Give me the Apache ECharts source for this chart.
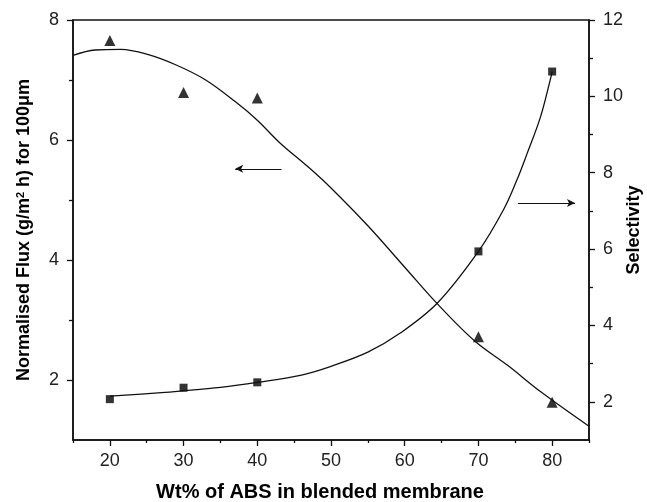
<!DOCTYPE html>
<html>
<head>
<meta charset="utf-8">
<script src="https://cdn.jsdelivr.net/npm/echarts@6/dist/echarts.min.js"></script>
<style>
    html, body { margin: 0; padding: 0; background: #fff; }
    #chart { width: 647px; height: 502px; }
</style>
</head>
<body>
<div id="chart"></div>
<script>
// measured points
const wtPercent = [20, 30, 40, 70, 80]
const fluxPoints = [7.66, 6.79, 6.70, 2.72, 1.63]
const selectivityPoints = [2.07, 2.37, 2.51, 5.94, 10.65]

// fitted curves [wt%, value]
const fluxCurve = [
    [15, 7.41], [18, 7.50], [21.5, 7.51], [25, 7.43], [29, 7.25], [33, 7.00],
    [37, 6.64], [40, 6.33], [43, 5.96], [47, 5.54], [50, 5.20], [55, 4.57],
    [60, 3.88], [64.5, 3.26], [69.5, 2.65], [74, 2.24], [78.5, 1.80], [85, 1.23]
]
const selectivityCurve = [
    [20, 2.15], [27, 2.24], [29.5, 2.28], [35, 2.38], [40, 2.51], [46, 2.70],
    [50, 2.93], [55, 3.30], [59.4, 3.80], [64.4, 4.58], [70, 5.94], [73.4, 7.03],
    [75.2, 7.80], [76.6, 8.50], [78.4, 9.45], [79.7, 10.40], [80, 10.65]
]

// arrows pointing at the axis each curve belongs to: [from, to]
const fluxArrow = [[43.3, 5.52], [37.0, 5.52]]
const selectivityArrow = [[75.35, 7.21], [83.1, 7.21]]

// ticks
const xMajor = [20, 30, 40, 50, 60, 70, 80]
const xMinor = [15, 25, 35, 45, 55, 65, 75, 85]
const fluxMajor = [2, 4, 6, 8]
const fluxMinor = [3, 5, 7]
const selMajor = [2, 4, 6, 8, 10, 12]
const selMinor = [3, 5, 7, 9, 11]

const ink = '#111'
const labelFont = { color: '#222', fontSize: 18, fontFamily: 'Liberation Sans, Arial, sans-serif' }
const titleFont = { color: '#000', fontSize: 18, fontWeight: 'bold', fontFamily: 'Liberation Sans, Arial, sans-serif' }

function minorAxis(base, ticks, len) {
    return Object.assign({
        type: 'value',
        axisLine: { show: false },
        axisTick: { show: true, inside: false, length: len, customValues: ticks, lineStyle: { color: ink, width: 1.3 } },
        axisLabel: { show: false },
        splitLine: { show: false }
    }, base)
}

function majorAxis(base, ticks, labelMargin) {
    return Object.assign({
        type: 'value',
        nameMoveOverlap: false,
        axisLine: { show: true, onZero: false, lineStyle: { color: ink, width: 1.5 } },
        axisTick: { show: true, inside: false, length: 6, customValues: ticks, lineStyle: { color: ink, width: 1.3 } },
        axisLabel: Object.assign({ customValues: ticks, margin: labelMargin }, labelFont),
        splitLine: { show: false }
    }, base)
}

const chart = echarts.init(document.getElementById('chart'))

const option = {
    animation: false,
    backgroundColor: '#fff',
    grid: {
        left: 73, right: 58, top: 20, bottom: 62,
        outerBoundsMode: 'none',
        containLabel: false,
        show: true, borderColor: ink, borderWidth: 1.5
    },
    xAxis: [
        majorAxis({
            min: 15, max: 85, position: 'bottom',
            name: 'Wt% of ABS in blended membrane',
            nameLocation: 'middle', nameGap: 42,
            nameTextStyle: Object.assign({}, titleFont, { fontSize: 20, padding: [0, 22, 0, 0] })
        }, xMajor, 12),
        minorAxis({ min: 15, max: 85, position: 'bottom' }, xMinor, 3)
    ],
    yAxis: [
        majorAxis({
            min: 1, max: 8, position: 'left',
            name: 'Normalised Flux (g/m{sup|2} h) for 100μm',
            nameLocation: 'middle', nameGap: 39, nameRotate: 90,
            nameTextStyle: Object.assign({
                rich: { sup: { fontSize: 11, fontWeight: 'bold', color: '#000', verticalAlign: 'top', padding: [0, 0, 8, 0] } }
            }, titleFont)
        }, fluxMajor, 14),
        minorAxis({ min: 1, max: 8, position: 'left' }, fluxMinor, 4),
        majorAxis({
            min: 1, max: 12, position: 'right',
            name: 'Selectivity',
            nameLocation: 'middle', nameGap: 36, nameRotate: 90,
            nameTextStyle: titleFont
        }, selMajor, 14),
        minorAxis({ min: 1, max: 12, position: 'right' }, selMinor, 4)
    ],
    series: [
        {
            type: 'line',
            xAxisIndex: 0, yAxisIndex: 0,
            data: fluxCurve,
            smooth: 0.35,
            showSymbol: false,
            lineStyle: { color: ink, width: 1.3 },
            markLine: {
                silent: true,
                symbol: ['none', 'arrow'],
                symbolSize: [6, 8],
                label: { show: false },
                lineStyle: { color: ink, width: 1.2, type: 'solid' },
                data: [[{ coord: fluxArrow[0] }, { coord: fluxArrow[1] }]]
            }
        },
        {
            type: 'scatter',
            xAxisIndex: 0, yAxisIndex: 0,
            symbol: 'triangle', symbolSize: 11,
            itemStyle: { color: '#000' },
            data: wtPercent.map((x, i) => [x, fluxPoints[i]])
        },
        {
            type: 'line',
            xAxisIndex: 0, yAxisIndex: 2,
            data: selectivityCurve,
            smooth: 0.35,
            showSymbol: false,
            lineStyle: { color: ink, width: 1.3 },
            markLine: {
                silent: true,
                symbol: ['none', 'arrow'],
                symbolSize: [6, 8],
                label: { show: false },
                lineStyle: { color: ink, width: 1.2, type: 'solid' },
                data: [[{ coord: selectivityArrow[0] }, { coord: selectivityArrow[1] }]]
            }
        },
        {
            type: 'scatter',
            xAxisIndex: 0, yAxisIndex: 2,
            symbol: 'rect', symbolSize: 8,
            itemStyle: { color: '#000' },
            data: wtPercent.map((x, i) => [x, selectivityPoints[i]])
        }
    ]
}

chart.setOption(option)
</script>
</body>
</html>
